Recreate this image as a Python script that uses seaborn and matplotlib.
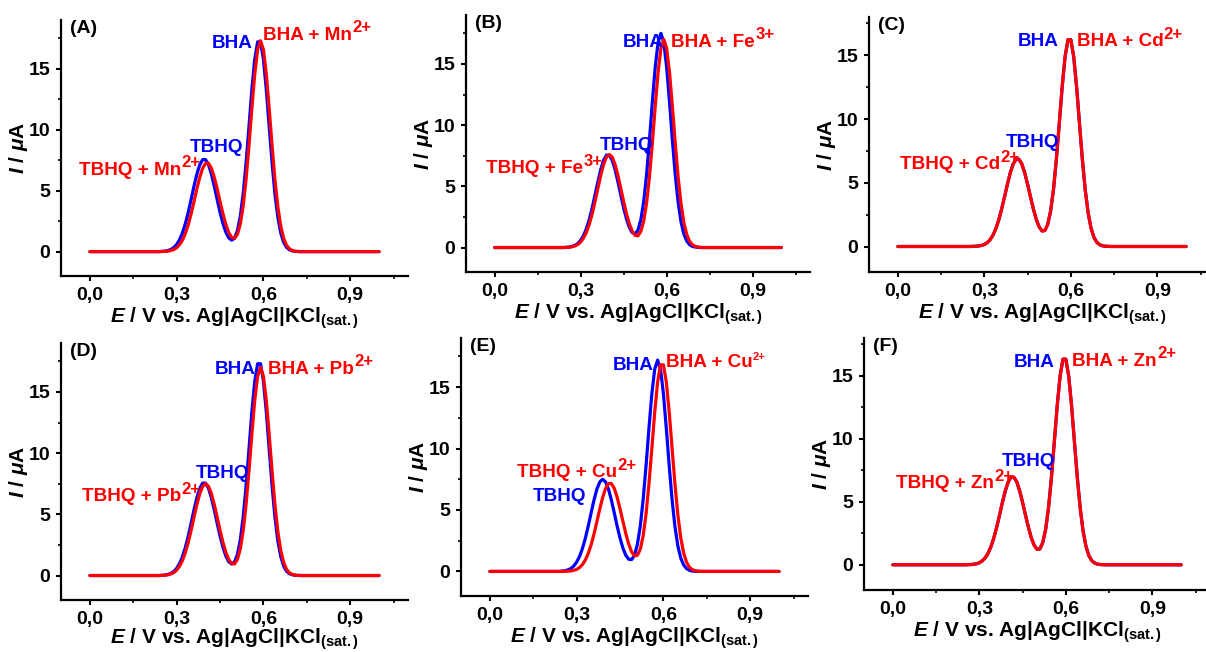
import matplotlib
matplotlib.use("Agg")
import matplotlib.pyplot as plt
import seaborn as sns
import pandas as pd
from matplotlib.ticker import MultipleLocator

# ---------------- data ----------------
E = [0.00, 0.10, 0.20, 0.24,
     0.25, 0.26, 0.27, 0.28, 0.29, 0.30, 0.31, 0.32, 0.33, 0.34,
     0.35, 0.36, 0.37, 0.38, 0.39, 0.40, 0.41, 0.42, 0.43, 0.44,
     0.45, 0.46, 0.47, 0.48, 0.49, 0.50, 0.51, 0.52, 0.53, 0.54,
     0.55, 0.56, 0.57, 0.58, 0.59, 0.60, 0.61, 0.62, 0.63, 0.64,
     0.65, 0.66, 0.67, 0.68, 0.69, 0.70, 0.71, 0.72, 0.73, 0.74,
     0.75, 0.80, 0.90, 1.00]

a_blue = [0, 0, 0, 0,
          0.02, 0.04, 0.09, 0.18, 0.33, 0.59, 0.98, 1.54, 2.29, 3.22,
          4.28, 5.37, 6.37, 7.13, 7.55, 7.55, 7.13, 6.37, 5.37, 4.28,
          3.23, 2.31, 1.60, 1.13, 0.94, 1.09, 1.71, 2.89, 4.74, 7.27,
          10.25, 13.28, 15.79, 17.21, 17.21, 15.79, 13.28, 10.24, 7.25, 4.70,
          2.80, 1.53, 0.76, 0.35, 0.15, 0.06, 0.02, 0.01, 0, 0,
          0, 0, 0, 0]
a_red = [0, 0, 0, 0,
         0.01, 0.02, 0.04, 0.09, 0.17, 0.32, 0.57, 0.94, 1.48, 2.20,
         3.10, 4.11, 5.16, 6.11, 6.85, 7.25, 7.25, 6.85, 6.11, 5.16,
         4.11, 3.11, 2.23, 1.57, 1.17, 1.09, 1.41, 2.25, 3.74, 5.91,
         8.68, 11.73, 14.55, 16.57, 17.30, 16.57, 14.55, 11.72, 8.66, 5.87,
         3.65, 2.08, 1.09, 0.52, 0.23, 0.09, 0.03, 0.01, 0, 0,
         0, 0, 0, 0]
b_blue = [0, 0, 0, 0,
          0.02, 0.04, 0.09, 0.18, 0.33, 0.59, 0.98, 1.54, 2.29, 3.22,
          4.28, 5.37, 6.37, 7.13, 7.55, 7.55, 7.13, 6.37, 5.37, 4.28,
          3.23, 2.33, 1.63, 1.21, 1.12, 1.43, 2.28, 3.78, 5.97, 8.78,
          11.87, 14.72, 16.76, 17.50, 16.76, 14.72, 11.86, 8.76, 5.93, 3.69,
          2.10, 1.10, 0.53, 0.23, 0.09, 0.04, 0.01, 0, 0, 0,
          0, 0, 0, 0]
b_red = [0, 0, 0, 0,
         0.01, 0.03, 0.06, 0.13, 0.25, 0.45, 0.77, 1.24, 1.90, 2.74,
         3.74, 4.83, 5.89, 6.79, 7.39, 7.60, 7.39, 6.79, 5.89, 4.83,
         3.74, 2.75, 1.93, 1.33, 0.99, 0.96, 1.32, 2.17, 3.64, 5.79,
         8.52, 11.52, 14.30, 16.28, 17.00, 16.28, 14.30, 11.52, 8.51, 5.76,
         3.58, 2.04, 1.07, 0.51, 0.22, 0.09, 0.03, 0.01, 0, 0,
         0, 0, 0, 0]
c_blue = [0, 0, 0, 0,
          0.00, 0.01, 0.02, 0.04, 0.08, 0.16, 0.30, 0.53, 0.89, 1.40,
          2.08, 2.93, 3.89, 4.88, 5.78, 6.47, 6.85, 6.85, 6.47, 5.78,
          4.88, 3.90, 2.95, 2.13, 1.54, 1.22, 1.25, 1.74, 2.80, 4.51,
          6.87, 9.67, 12.53, 14.88, 16.22, 16.22, 14.88, 12.52, 9.65, 6.83,
          4.43, 2.64, 1.44, 0.72, 0.33, 0.14, 0.05, 0.02, 0.01, 0,
          0, 0, 0, 0]
c_red = [0, 0, 0, 0,
         0.00, 0.01, 0.02, 0.04, 0.08, 0.16, 0.30, 0.53, 0.89, 1.40,
         2.08, 2.93, 3.89, 4.88, 5.78, 6.47, 6.85, 6.85, 6.47, 5.78,
         4.88, 3.90, 2.95, 2.13, 1.54, 1.22, 1.25, 1.74, 2.80, 4.51,
         6.87, 9.67, 12.53, 14.88, 16.22, 16.22, 14.88, 12.52, 9.65, 6.83,
         4.43, 2.64, 1.44, 0.72, 0.33, 0.14, 0.05, 0.02, 0.01, 0,
         0, 0, 0, 0]
d_blue = [0, 0, 0, 0,
          0.02, 0.04, 0.09, 0.18, 0.33, 0.59, 0.98, 1.54, 2.29, 3.22,
          4.28, 5.37, 6.37, 7.13, 7.55, 7.55, 7.13, 6.37, 5.37, 4.28,
          3.23, 2.31, 1.60, 1.13, 0.94, 1.10, 1.72, 2.90, 4.77, 7.31,
          10.31, 13.36, 15.88, 17.31, 17.31, 15.88, 13.36, 10.30, 7.29, 4.73,
          2.81, 1.54, 0.77, 0.35, 0.15, 0.06, 0.02, 0.01, 0, 0,
          0, 0, 0, 0]
d_red = [0, 0, 0, 0,
         0.01, 0.03, 0.06, 0.13, 0.24, 0.44, 0.76, 1.22, 1.87, 2.70,
         3.69, 4.77, 5.81, 6.70, 7.29, 7.50, 7.29, 6.70, 5.81, 4.77,
         3.69, 2.71, 1.90, 1.31, 0.98, 0.95, 1.31, 2.17, 3.64, 5.79,
         8.52, 11.52, 14.30, 16.28, 17.00, 16.28, 14.30, 11.52, 8.51, 5.76,
         3.58, 2.04, 1.07, 0.51, 0.22, 0.09, 0.03, 0.01, 0, 0,
         0, 0, 0, 0]
e_blue = [0, 0, 0, 0,
          0.03, 0.06, 0.13, 0.24, 0.44, 0.76, 1.22, 1.87, 2.70, 3.69,
          4.77, 5.81, 6.70, 7.29, 7.50, 7.29, 6.70, 5.81, 4.77, 3.69,
          2.71, 1.90, 1.31, 0.99, 0.96, 1.32, 2.20, 3.69, 5.86, 8.62,
          11.65, 14.47, 16.47, 17.20, 16.47, 14.47, 11.65, 8.61, 5.83, 3.63,
          2.07, 1.08, 0.52, 0.23, 0.09, 0.03, 0.01, 0, 0, 0,
          0, 0, 0, 0]
e_red = [0, 0, 0, 0,
         0.00, 0.01, 0.02, 0.04, 0.09, 0.17, 0.32, 0.56, 0.93, 1.46,
         2.17, 3.05, 4.06, 5.09, 6.03, 6.76, 7.15, 7.15, 6.76, 6.03,
         5.09, 4.07, 3.07, 2.23, 1.60, 1.27, 1.31, 1.81, 2.90, 4.69,
         7.12, 10.03, 12.98, 15.42, 16.82, 16.82, 15.42, 12.97, 10.01, 7.08,
         4.60, 2.73, 1.49, 0.75, 0.34, 0.14, 0.06, 0.02, 0.01, 0,
         0, 0, 0, 0]
f_blue = [0, 0, 0, 0,
          0.00, 0.01, 0.02, 0.04, 0.08, 0.16, 0.31, 0.54, 0.90, 1.42,
          2.11, 2.97, 3.94, 4.95, 5.86, 6.57, 6.95, 6.95, 6.57, 5.86,
          4.95, 3.95, 2.99, 2.16, 1.56, 1.23, 1.26, 1.76, 2.81, 4.54,
          6.91, 9.73, 12.60, 14.97, 16.32, 16.32, 14.97, 12.59, 9.71, 6.87,
          4.46, 2.65, 1.45, 0.72, 0.33, 0.14, 0.05, 0.02, 0.01, 0,
          0, 0, 0, 0]
f_red = [0, 0, 0, 0,
         0.00, 0.01, 0.02, 0.04, 0.08, 0.16, 0.31, 0.54, 0.90, 1.42,
         2.11, 2.97, 3.94, 4.95, 5.86, 6.57, 6.95, 6.95, 6.57, 5.86,
         4.95, 3.95, 2.99, 2.16, 1.56, 1.23, 1.26, 1.76, 2.81, 4.54,
         6.91, 9.73, 12.60, 14.97, 16.32, 16.32, 14.97, 12.59, 9.71, 6.87,
         4.46, 2.65, 1.45, 0.72, 0.33, 0.14, 0.05, 0.02, 0.01, 0,
         0, 0, 0, 0]

panel_names = ["(A)", "(B)", "(C)", "(D)", "(E)", "(F)"]
ions = ["Mn", "Fe", "Cd", "Pb", "Cu", "Zn"]
charges = ["2+", "3+", "2+", "2+", "2+", "2+"]
blue_series = [a_blue, b_blue, c_blue, d_blue, e_blue, f_blue]
red_series = [a_red, b_red, c_red, d_red, e_red, f_red]

xticks = [0.0, 0.3, 0.6, 0.9]
xticklabels = ["0,0", "0,3", "0,6", "0,9"]
yticks = [0, 5, 10, 15]

# ---------------- layout / style ----------------
W, H = 1206, 652
# axes boxes in pixels: left, top, right, bottom
boxes = [(61, 20, 408, 276), (466, 15, 810, 272), (869, 17, 1215, 272),
         (61, 343, 408, 600), (461, 338, 808, 596), (864, 338, 1210, 590)]
ytops = [19, 19, 18, 19, 19, 18]
xlabelpads = [1, 1, 1, -1, 1, 1]

# label positions per panel: BHA, BHA+ion, TBHQ, TBHQ+ion  (left x, baseline y)
label_pos = [
    [(0.420, 16.7), (0.600, 17.4), (0.344, 8.2), (-0.038, 6.3)],
    [(0.447, 16.4), (0.616, 16.4), (0.366, 8.0), (-0.031, 6.05)],
    [(0.415, 15.7), (0.620, 15.7), (0.375, 7.83), (0.006, 6.06)],
    [(0.433, 16.5), (0.615, 16.5), (0.367, 8.0), (-0.029, 6.08)],
    [(0.425, 16.4), (0.608, 16.6), (0.148, 5.75), (0.092, 7.67)],
    [(0.419, 15.7), (0.623, 15.8), (0.378, 7.83), (0.012, 6.08)],
]
# superscript size for the BHA+ion and TBHQ+ion labels
sup_sizes = [(12, 12), (12, 12), (12, 12), (12, 12), (8, 12), (12, 12)]

sns.set_theme(style="ticks")
plt.rcParams["font.family"] = ["Liberation Sans", "DejaVu Sans"]
plt.rcParams["font.weight"] = "bold"
plt.rcParams["axes.labelweight"] = "bold"
plt.rcParams["text.color"] = "black"
plt.rcParams["axes.labelcolor"] = "black"
plt.rcParams["xtick.color"] = "black"
plt.rcParams["ytick.color"] = "black"
plt.rcParams["mathtext.fontset"] = "custom"
plt.rcParams["mathtext.rm"] = "Liberation Sans:bold"
plt.rcParams["mathtext.it"] = "Liberation Sans:italic:bold"
plt.rcParams["mathtext.bf"] = "Liberation Sans:bold"

BLUE = "#0000FF"
RED = "#FF0000"
FS = 14
AFS = 13.6
LFS = 15

fig = plt.figure(figsize=(W / 100, H / 100), dpi=100)
fig.patch.set_facecolor("white")


def label_with_sup(ax, x, y, main, sup, color, supsize):
    t = ax.text(x, y, main, color=color, fontsize=AFS, fontweight="bold",
                ha="left", va="baseline")
    dy = 6.0 if supsize >= 11 else 7.0
    ax.annotate(sup, xy=(1.0, 0.0), xycoords=t, xytext=(0.3, dy),
                textcoords="offset points", color=color, fontsize=supsize,
                fontweight="bold", ha="left", va="bottom")


for i in range(6):
    l, t, r, b = boxes[i]
    ax = fig.add_axes([l / W, 1 - b / H, (r - l) / W, (b - t) / H])
    ax.set_facecolor("white")
    df_b = pd.DataFrame({"E": E, "I": blue_series[i]})
    df_r = pd.DataFrame({"E": E, "I": red_series[i]})
    sns.lineplot(data=df_b, x="E", y="I", ax=ax, color=BLUE, linewidth=2.3,
                 estimator=None, sort=False)
    sns.lineplot(data=df_r, x="E", y="I", ax=ax, color=RED, linewidth=2.3,
                 estimator=None, sort=False)
    ax.set_xlim(-0.1, 1.1)
    ax.set_ylim(-2, ytops[i])
    ax.set_xticks(xticks)
    ax.set_xticklabels(xticklabels)
    ax.set_yticks(yticks)
    ax.xaxis.set_minor_locator(MultipleLocator(0.15))
    ax.yaxis.set_minor_locator(MultipleLocator(2.5))
    ax.tick_params(axis="both", which="major", direction="out", length=3.8,
                   width=1.5, labelsize=FS, pad=4, color="black",
                   labelcolor="black")
    ax.tick_params(axis="both", which="minor", direction="out", length=2.5,
                   width=1.2, color="black")
    for lab in ax.get_xticklabels() + ax.get_yticklabels():
        lab.set_fontweight("bold")
    sns.despine(ax=ax)
    for s in ["left", "bottom"]:
        ax.spines[s].set_linewidth(1.6)
        ax.spines[s].set_color("black")
    ax.set_xlabel(r"$E$ / V vs. Ag|AgCl|KCl$_{\rm (sat.)}$", fontsize=LFS,
                  fontweight="bold", labelpad=xlabelpads[i], color="black")
    ax.set_ylabel(r"$I$ / $\mu$A", fontsize=LFS, fontweight="bold",
                  labelpad=-1, color="black")
    ax.text(0.025, 1.0, panel_names[i], transform=ax.transAxes, fontsize=FS,
            fontweight="bold", ha="left", va="top", color="black")

    lp = label_pos[i]
    ion = ions[i]
    ch = charges[i]
    ss = sup_sizes[i]
    ax.text(lp[0][0], lp[0][1], "BHA", color=BLUE, fontsize=AFS,
            fontweight="bold", ha="left", va="baseline")
    label_with_sup(ax, lp[1][0], lp[1][1], "BHA + " + ion, ch, RED, ss[0])
    ax.text(lp[2][0], lp[2][1], "TBHQ", color=BLUE, fontsize=AFS,
            fontweight="bold", ha="left", va="baseline")
    label_with_sup(ax, lp[3][0], lp[3][1], "TBHQ + " + ion, ch, RED, ss[1])

fig.savefig("out.png", dpi=100, facecolor="white")
